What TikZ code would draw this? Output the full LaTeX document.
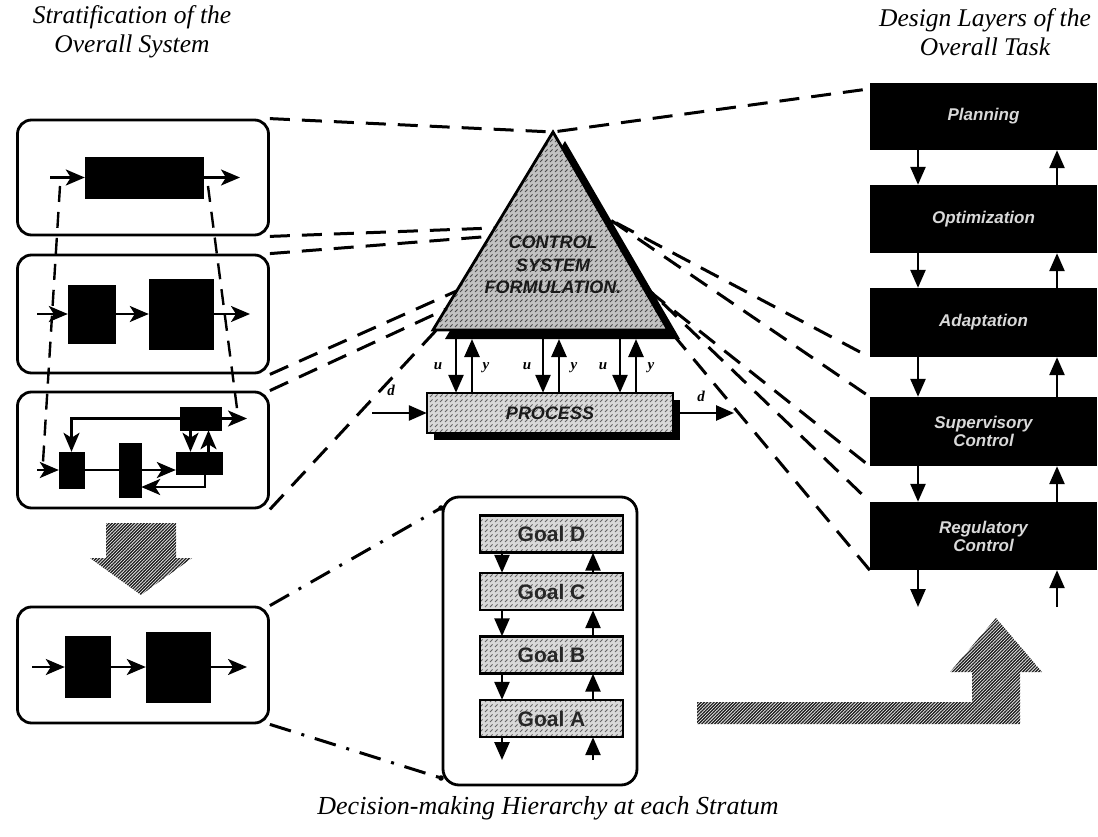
\documentclass[tikz,border=0pt]{standalone}
\usepackage{fontspec}
\setmainfont{Liberation Serif}
\newfontfamily\lsans{Liberation Sans}
\usetikzlibrary{arrows.meta,patterns,calc}

% dense diagonal hatching for the big transition arrows
\pgfdeclarepatternformonly{hatch}{\pgfqpoint{-1pt}{-1pt}}{\pgfqpoint{4pt}{4pt}}{\pgfqpoint{3.2pt}{3.2pt}}%
{\pgfsetlinewidth{1.3pt}\pgfpathmoveto{\pgfqpoint{-0.2pt}{-0.2pt}}\pgfpathlineto{\pgfqpoint{3.4pt}{3.4pt}}\pgfusepath{stroke}}
% light speckle texture for the grey boxes
\pgfdeclarepatternformonly{speck}{\pgfqpoint{-1pt}{-1pt}}{\pgfqpoint{6pt}{6pt}}{\pgfqpoint{5pt}{5pt}}%
{\pgfsetlinewidth{0.8pt}\pgfpathmoveto{\pgfqpoint{0pt}{0pt}}\pgfpathlineto{\pgfqpoint{2.5pt}{2.5pt}}\pgfusepath{stroke}}

\begin{document}
\begin{tikzpicture}[x=1pt,y=-1pt,
  title/.style={font=\fontsize{25.5}{28.5}\selectfont\itshape, align=center, inner sep=0pt},
  strat/.style={draw, line width=2.8pt, rounded corners=14pt, minimum width=251pt, inner sep=0pt},
  blk/.style={fill=black, draw=black, inner sep=0pt},
  flow/.style={line width=2.6pt, -{Stealth[length=19pt,width=16pt,inset=5pt]}},
  flowt/.style={line width=2.6pt, -{Triangle[length=18pt,width=15pt]}},
  link/.style={line width=3pt, dash pattern=on 20pt off 12pt},
  vlink/.style={line width=2.4pt, dash pattern=on 16pt off 10pt},
  chain/.style={line width=3pt, dash pattern=on 22pt off 11pt on 3pt off 11pt},
  greybox/.style={fill=gray!30, postaction={pattern=speck, pattern color=black!60},
    postaction={draw, line width=2.8pt}, inner sep=0pt},
  goal/.style={greybox, minimum width=143pt, minimum height=37pt,
    font=\lsans\bfseries\fontsize{21}{21}\selectfont, text=black!85},
  layer/.style={fill=black, minimum width=227pt, inner sep=0pt, align=center,
    font=\lsans\bfseries\itshape\fontsize{17}{18}\selectfont, text=white!85!black},
  lab/.style={font=\bfseries\itshape\fontsize{15}{15}\selectfont, inner sep=0pt},
  hatcharrow/.style={pattern=hatch, pattern color=black!85}
]
\useasboundingbox[fill=white] (0,0) rectangle (1098,837);

% ---------- headings ----------
\node[title] (t1) at (132,32) {Stratification of the\\Overall System};
\node[title] (t2) at (985,32) {Design Layers of the\\Overall Task};
\node[title, font=\fontsize{26}{28}\selectfont\itshape] (t3) at (548,808) {Decision-making Hierarchy at each Stratum};

% ---------- strata on the left ----------
\node[strat, minimum height=115pt] (S1) at (143,177.5) {};
\node[strat, minimum height=118pt] (S2) at (143,314) {};
\node[strat, minimum height=116pt] (S3) at (143,450) {};
\node[strat, minimum height=116pt] (S4) at (143,665) {};

% ---------- design layers on the right ----------
\node[layer, minimum height=67pt] (L1) at (983.5,116.5) {Planning};
\node[layer, minimum height=68pt] (L2) at (983.5,219) {Optimization};
\node[layer, minimum height=69pt] (L3) at (983.5,322.5) {Adaptation};
\node[layer, minimum height=69pt] (L4) at (983.5,431.5) {Supervisory\\Control};
\node[layer, minimum height=68pt] (L5) at (983.5,536) {Regulatory\\Control};

% ---------- triangle geometry ----------
\coordinate (apex) at (553,132);
\coordinate (bl) at (433,330);
\coordinate (br) at (668,330);

% ---------- projection lines through the control formulation ----------
\coordinate (p2l) at (520,227); \coordinate (p2r) at (590,209);
\coordinate (p3l) at (520,234); \coordinate (p3r) at (590,206);
\coordinate (p4l) at (470,285); \coordinate (p4r) at (600,252);
\coordinate (p5l) at (470,298); \coordinate (p5r) at (600,243);
\coordinate (p6l) at (455,310); \coordinate (p6r) at (600,247);
\draw[link] (S1.north east) -- (apex) -- ([yshift=-6pt]L1.north west);
\draw[link] (S1.south east) -- (p2l) -- (p2r) -- (L3.south west);
\draw[link] (S2.north east) -- (p3l) -- (p3r) -- (L4.north west);
\draw[link] (S2.south east) -- (p4l) -- (p4r) -- (L4.south west);
\draw[link] (S3.north east) -- (p5l) -- (p5r) -- (L5.north west);
\draw[link] (S3.south east) -- (p6l) -- (p6r) -- (L5.south west);

% ---------- control system formulation ----------
\fill[black] ($(apex)+(12,9)$) -- ($(bl)+(12,9)$) -- ($(br)+(12,9)$) -- cycle;
\path[fill=gray!48, postaction={pattern=speck, pattern color=black!70},
  postaction={draw, line width=2.8pt, line join=miter}] (apex) -- (bl) -- (br) -- cycle;
\node[font=\lsans\bfseries\itshape\fontsize{18}{22.5}\selectfont, align=center,
  text=black!90, inner sep=0pt] (csf) at (553,265) {CONTROL\\SYSTEM\\FORMULATION.};

% ---------- process ----------
\node[fill=black, minimum width=246pt, minimum height=40pt, inner sep=0pt] (procsh) at (557,420) {};
\node[greybox, minimum width=246pt, minimum height=40pt,
  font=\lsans\bfseries\itshape\fontsize{18}{18}\selectfont, text=black!90] (proc) at (550,413) {PROCESS};

% manipulated inputs u and measured outputs y
\coordinate (u1) at (456,339); \coordinate (y1) at (472,339);
\coordinate (u2) at (543,339); \coordinate (y2) at (559,339);
\coordinate (u3) at (620,339); \coordinate (y3) at (636,339);
\draw[flowt] (u1) -- (u1 |- proc.north);
\draw[flowt] (y1 |- proc.north) -- (y1);
\draw[flowt] (u2) -- (u2 |- proc.north);
\draw[flowt] (y2 |- proc.north) -- (y2);
\draw[flowt] (u3) -- (u3 |- proc.north);
\draw[flowt] (y3 |- proc.north) -- (y3);
\node[lab] (lu1) at (438,366) {u};
\node[lab] (ly1) at (486,368) {y};
\node[lab] (lu2) at (527,366) {u};
\node[lab] (ly2) at (574,368) {y};
\node[lab] (lu3) at (603,366) {u};
\node[lab] (ly3) at (651,368) {y};

% disturbances
\coordinate (din) at (372,413);
\coordinate (dout) at (734,413);
\draw[flowt] (din) -- (proc.west);
\draw[flowt] (procsh.east |- proc.east) -- (dout);
\node[lab] (ld1) at (391,390) {d};
\node[lab] (ld2) at (701,396) {d};

% ---------- stratum 1 ----------
\node[blk, minimum width=118pt, minimum height=41pt] (B11) at (144,177.5) {};
\coordinate (i1) at (50,177.5); \coordinate (o1) at (240,177.5);
\draw[flow] (i1) -- (B11);
\draw[flow] (B11) -- (o1);

% ---------- stratum 2 ----------
\node[blk, minimum width=47pt, minimum height=58pt] (B21) at (91.5,314) {};
\node[blk, minimum width=64pt, minimum height=70pt] (B22) at (181,314) {};
\coordinate (i2) at (37,314); \coordinate (o2) at (250,314);
\draw[flow] (i2) -- (B21);
\draw[flow] (B21) -- (B22);
\draw[flow] (B22) -- (o2);

% ---------- stratum 3 ----------
\node[blk, minimum width=41pt, minimum height=23pt] (T3) at (200.5,418.5) {};
\node[blk, minimum width=25pt, minimum height=36pt] (L3b) at (71.5,470) {};
\node[blk, minimum width=22pt, minimum height=54pt] (M3) at (130,470) {};
\node[blk, minimum width=46pt, minimum height=22pt] (R3) at (199,463) {};
\coordinate (i3) at (37,470); \coordinate (o3) at (247,418.5);
\draw[flow] (i3) -- (L3b);
\draw[flow] (L3b.east) -- (L3b.east -| R3.west);
\draw[flow] (T3) -- (o3);
\draw[flow] (T3.west) -| (L3b.north);
\draw[flow] ([xshift=-10pt]T3.south) -- ([xshift=-10pt]T3.south |- R3.north);
\draw[flow] ([xshift=8pt]T3.south |- R3.north) -- ([xshift=8pt]T3.south);
\draw[flow] ([xshift=6pt]R3.south) |- ([yshift=-17pt]M3.east);

% dashed outline of the aggregated block across the strata
\coordinate (v1a) at (60,186); \coordinate (v1b) at (43,462);
\coordinate (v2a) at (208,186); \coordinate (v2b) at (238,416);
\draw[vlink] (v1a) -- (v1b);
\draw[vlink] (v2a) -- (v2b);

% ---------- selected stratum ----------
\node[blk, minimum width=45pt, minimum height=61pt] (C1) at (87.5,667) {};
\node[blk, minimum width=64pt, minimum height=70pt] (C2) at (178,667) {};
\coordinate (i4) at (32,667); \coordinate (o4) at (247,667);
\draw[flow] (i4) -- (C1);
\draw[flow] (C1) -- (C2);
\draw[flow] (C2) -- (o4);

% ---------- decision-making hierarchy ----------
\node[draw, line width=2.8pt, rounded corners=16pt, minimum width=194pt,
  minimum height=288pt, inner sep=0pt] (G) at (540,641) {};
\node[goal] (gD) at (551.5,534) {Goal D};
\node[goal] (gC) at (551.5,591.5) {Goal C};
\node[goal] (gB) at (551.5,655) {Goal B};
\node[goal] (gA) at (551.5,718.5) {Goal A};
\draw[flowt] ([xshift=-49.5pt]gD.south) -- ([xshift=-49.5pt]gC.north);
\draw[flowt] ([xshift=-49.5pt]gC.south) -- ([xshift=-49.5pt]gB.north);
\draw[flowt] ([xshift=-49.5pt]gB.south) -- ([xshift=-49.5pt]gA.north);
\draw[flowt] ([xshift=41.5pt]gC.north) -- ([xshift=41.5pt]gD.south);
\draw[flowt] ([xshift=41.5pt]gB.north) -- ([xshift=41.5pt]gC.south);
\draw[flowt] ([xshift=41.5pt]gA.north) -- ([xshift=41.5pt]gB.south);
\coordinate (gout) at (502,760); \coordinate (gin) at (593,760);
\draw[flowt] ([xshift=-49.5pt]gA.south) -- (gout);
\draw[flowt] (gin) -- ([xshift=41.5pt]gA.south);

% zoom lines from the selected stratum
\coordinate (g1) at (441,508); \coordinate (g2) at (441,778);
\draw[chain] (S4.north east) -- (g1);
\draw[chain] (S4.south east) -- (g2);
\fill (g1) circle (2.8);
\fill (g2) circle (2.8);

% ---------- design layer links ----------
\draw[flowt] ([xshift=-65.5pt]L1.south) -- ([xshift=-65.5pt]L2.north);
\draw[flowt] ([xshift=-65.5pt]L2.south) -- ([xshift=-65.5pt]L3.north);
\draw[flowt] ([xshift=-65.5pt]L3.south) -- ([xshift=-65.5pt]L4.north);
\draw[flowt] ([xshift=-65.5pt]L4.south) -- ([xshift=-65.5pt]L5.north);
\draw[flowt] ([xshift=73.5pt]L2.north) -- ([xshift=73.5pt]L1.south);
\draw[flowt] ([xshift=73.5pt]L3.north) -- ([xshift=73.5pt]L2.south);
\draw[flowt] ([xshift=73.5pt]L4.north) -- ([xshift=73.5pt]L3.south);
\draw[flowt] ([xshift=73.5pt]L5.north) -- ([xshift=73.5pt]L4.south);
\coordinate (lo1) at (918,607); \coordinate (lo2) at (1057,607);
\draw[flowt] ([xshift=-65.5pt]L5.south) -- (lo1);
\draw[flowt] (lo2) -- ([xshift=73.5pt]L5.south);

% ---------- hatched transition arrows ----------
\path[hatcharrow] (106,523) -- (176,523) -- (176,558) -- (192,558) -- (141,595)
  -- (90,558) -- (106,558) -- cycle;
\path[hatcharrow] (697,702) -- (972,702) -- (972,672) -- (950,672) -- (996,618)
  -- (1042,672) -- (1020,672) -- (1020,724) -- (697,724) -- cycle;
\end{tikzpicture}
\end{document}
